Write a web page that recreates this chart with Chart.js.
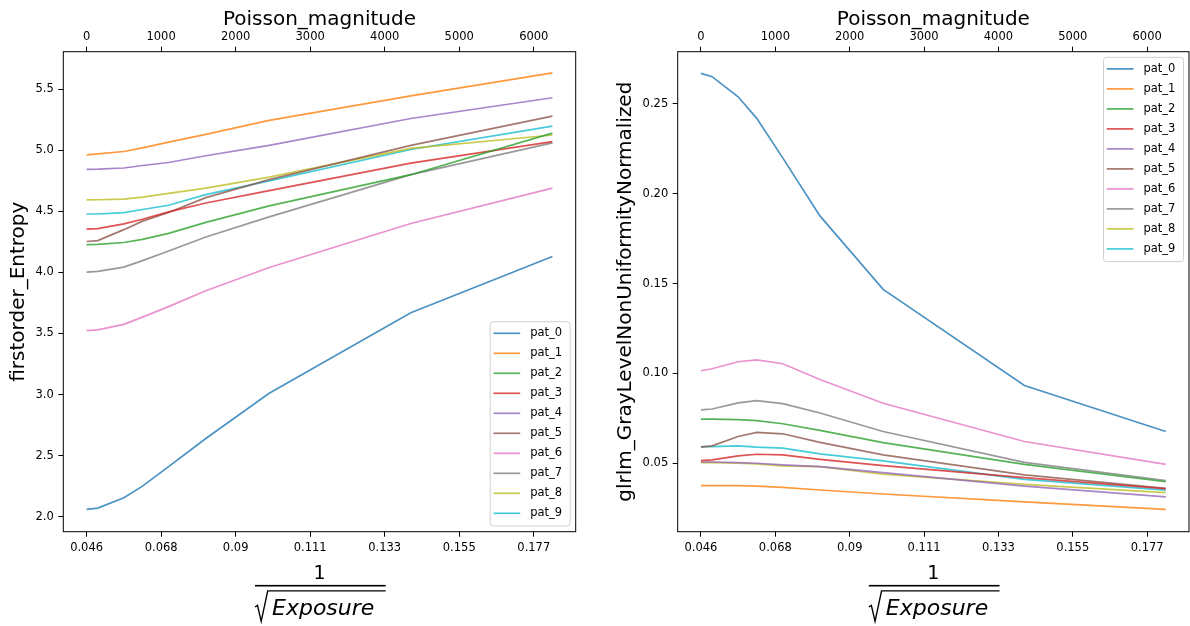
<!doctype html>
<html>
<head>
<meta charset="utf-8">
<script src="https://cdn.jsdelivr.net/npm/chart.js@4"></script>
<style>
body{margin:0;background:#fff;width:1190px;height:626px;overflow:hidden;position:relative}
canvas{position:absolute;top:0}
#c1{left:0}
#c2{left:590px}
</style>
</head>
<body>
<canvas id="c1" width="590" height="626"></canvas>
<canvas id="c2" width="600" height="626"></canvas>
<script>
// x positions (Poisson magnitude) shared by every curve
const poisson = [0, 150, 500, 750, 1100, 1600, 2450, 4350, 6250];
const topTicks = [0, 1000, 2000, 3000, 4000, 5000, 6000];
const bottomTickLabels = ['0.046', '0.068', '0.09', '0.111', '0.133', '0.155', '0.177'];
const patients = ['pat_0','pat_1','pat_2','pat_3','pat_4','pat_5','pat_6','pat_7','pat_8','pat_9'];

// firstorder_Entropy
const entropyPat0 = [2.06, 2.07, 2.155, 2.25, 2.41, 2.64, 3.01, 3.67, 4.13];
const entropyPat1 = [4.963, 4.97, 4.99, 5.02, 5.066, 5.13, 5.245, 5.445, 5.634];
const entropyPat2 = [4.227, 4.23, 4.245, 4.27, 4.32, 4.41, 4.545, 4.80, 5.14];
const entropyPat3 = [4.355, 4.358, 4.397, 4.435, 4.495, 4.568, 4.67, 4.895, 5.07];
const entropyPat4 = [4.844, 4.845, 4.855, 4.875, 4.90, 4.955, 5.04, 5.26, 5.43];
const entropyPat5 = [4.253, 4.26, 4.35, 4.42, 4.49, 4.612, 4.76, 5.04, 5.28];
const entropyPat6 = [3.523, 3.53, 3.575, 3.634, 3.72, 3.85, 4.04, 4.40, 4.69];
const entropyPat7 = [4.002, 4.008, 4.043, 4.096, 4.175, 4.29, 4.455, 4.80, 5.06];
const entropyPat8 = [4.594, 4.595, 4.60, 4.617, 4.647, 4.69, 4.78, 5.015, 5.125];
const entropyPat9 = [4.478, 4.478, 4.49, 4.515, 4.55, 4.637, 4.75, 5.006, 5.198];

// glrlm_GrayLevelNonUniformityNormalized
const glrlmPat0 = [0.267, 0.2652, 0.254, 0.242, 0.220, 0.1877, 0.1468, 0.0933, 0.0677];
const glrlmPat1 = [0.0375, 0.0375, 0.0375, 0.0373, 0.0366, 0.0351, 0.0329, 0.0285, 0.0243];
const glrlmPat2 = [0.0746, 0.0746, 0.0743, 0.0737, 0.0720, 0.0683, 0.0615, 0.0494, 0.0397];
const glrlmPat3 = [0.0515, 0.0519, 0.0541, 0.0550, 0.0547, 0.0522, 0.0487, 0.0420, 0.0358];
const glrlmPat4 = [0.0507, 0.0507, 0.0504, 0.0500, 0.0491, 0.0481, 0.0448, 0.0373, 0.0313];
const glrlmPat5 = [0.0590, 0.0597, 0.0649, 0.0672, 0.0664, 0.0616, 0.0547, 0.0435, 0.0360];
const glrlmPat6 = [0.1015, 0.1026, 0.1065, 0.1075, 0.1054, 0.0966, 0.0834, 0.0621, 0.0494];
const glrlmPat7 = [0.0797, 0.0802, 0.0836, 0.0849, 0.0832, 0.0780, 0.0677, 0.0505, 0.0403];
const glrlmPat8 = [0.0504, 0.0504, 0.0500, 0.0496, 0.0485, 0.0481, 0.0440, 0.0382, 0.0336];
const glrlmPat9 = [0.0593, 0.0593, 0.0597, 0.0590, 0.0584, 0.0552, 0.0513, 0.0410, 0.0350];

const entropySeries = [entropyPat0, entropyPat1, entropyPat2, entropyPat3, entropyPat4,
  entropyPat5, entropyPat6, entropyPat7, entropyPat8, entropyPat9];
const glrlmSeries = [glrlmPat0, glrlmPat1, glrlmPat2, glrlmPat3, glrlmPat4,
  glrlmPat5, glrlmPat6, glrlmPat7, glrlmPat8, glrlmPat9];

// tab10 with alpha .8
const colors = ['rgba(31,119,180,.8)','rgba(255,127,14,.8)','rgba(44,160,44,.8)','rgba(214,39,40,.8)',
  'rgba(148,103,189,.8)','rgba(140,86,75,.8)','rgba(227,119,194,.8)','rgba(127,127,127,.8)',
  'rgba(188,189,34,.8)','rgba(23,190,207,.8)'];

const FONT = "'DejaVu Sans', sans-serif";
const tickFont = {family: FONT, size: 11.5};

const framePlugin = {
  id: 'frame',
  afterDraw(chart){
    const {ctx, chartArea: a} = chart;
    ctx.save();
    ctx.strokeStyle = '#000'; ctx.lineWidth = 1;
    ctx.strokeRect(a.left, a.top, a.right - a.left, a.bottom - a.top);
    ctx.restore();
  }
};

const boxLegend = {
  id: 'boxLegend',
  afterDraw(chart, args, opts){
    const {ctx, chartArea: a} = chart;
    const w = 80, h = 204.3;
    const bx = a.right - 5.5 - w;
    const by = opts.corner === 'upper' ? a.top + 5.6 : a.bottom - 5.7 - h;
    ctx.save();
    ctx.beginPath();
    ctx.roundRect(bx, by, w, h, 3);
    ctx.fillStyle = 'rgba(255,255,255,0.8)'; ctx.fill();
    ctx.strokeStyle = '#d0d0d0'; ctx.lineWidth = 1; ctx.stroke();
    ctx.font = `11.5px ${FONT}`; ctx.textBaseline = 'middle'; ctx.textAlign = 'left';
    chart.data.datasets.forEach((ds, i) => {
      const y = by + 11.6 + i * 20;
      ctx.strokeStyle = ds.borderColor; ctx.lineWidth = 1.7;
      ctx.beginPath(); ctx.moveTo(bx + 3.3, y); ctx.lineTo(bx + 30, y); ctx.stroke();
      ctx.fillStyle = '#000'; ctx.fillText(ds.label, bx + 40, y);
    });
    ctx.restore();
  }
};

// 1 / sqrt(Exposure) axis label, drawn like matplotlib mathtext
const fractionTitle = {
  id: 'fractionTitle',
  afterDraw(chart){
    const {ctx, chartArea: a} = chart;
    const cx = (a.left + a.right) / 2;
    ctx.save();
    ctx.fillStyle = '#000';
    ctx.textBaseline = 'alphabetic';
    ctx.font = `19px ${FONT}`; ctx.textAlign = 'center';
    ctx.fillText('1', cx, 579.3);
    ctx.fillRect(cx - 64.5, 584.9, 130.7, 1.6);
    // radical sign + overline
    ctx.strokeStyle = '#000'; ctx.lineWidth = 1.4; ctx.lineJoin = 'miter';
    ctx.beginPath();
    ctx.moveTo(cx - 64.5, 607);
    ctx.lineTo(cx - 62, 605.3);
    ctx.lineTo(cx - 58.3, 621.3);
    ctx.lineTo(cx - 51.8, 590.9);
    ctx.lineTo(cx + 66.2, 590.9);
    ctx.stroke();
    ctx.textAlign = 'left';
    ctx.font = `italic 22px ${FONT}`;
    ctx.fillText('Exposure', cx - 47.5, 615.3);
    ctx.restore();
  }
};

function build(id, o){
  const datasets = patients.map((p, i) => ({
    label: p,
    data: poisson.map((x, j) => ({x: x, y: o.series[i][j]})),
    borderColor: colors[i], backgroundColor: colors[i],
    borderWidth: 1.7, pointRadius: 0, tension: 0, fill: false, xAxisID: 'x', yAxisID: 'y'
  }));
  const grid = {drawOnChartArea: false, tickLength: 5, color: '#000', tickColor: '#000', lineWidth: 1};
  return new Chart(document.getElementById(id), {
    type: 'line',
    data: {datasets},
    options: {
      responsive: false, animation: false, events: [],
      layout: {padding: {left: 0, right: o.padRight, top: 0, bottom: 0}},
      plugins: {legend: {display: false}, tooltip: {enabled: false}, boxLegend: {corner: o.legendCorner}},
      scales: {
        x: {
          type: 'linear', position: 'bottom', min: -312.5, max: 6562.5,
          afterBuildTicks: s => { s.ticks = topTicks.map(v => ({value: v})); },
          afterFit: s => { s.height = 94.3; },
          ticks: {callback: (v, i) => bottomTickLabels[i], font: tickFont, color: '#000', padding: 4.7, maxRotation: 0, autoSkip: false},
          grid: grid, border: {display: false}
        },
        x2: {
          type: 'linear', position: 'top', min: -312.5, max: 6562.5,
          afterBuildTicks: s => { s.ticks = topTicks.map(v => ({value: v})); },
          afterFit: s => { s.height = 51.7; },
          ticks: {callback: v => String(v), font: tickFont, color: '#000', padding: 2.5, maxRotation: 0, autoSkip: false},
          grid: grid, border: {display: false},
          title: {display: true, text: 'Poisson_magnitude', color: '#000', font: {family: FONT, size: 20}, padding: {top: 8, bottom: 0}}
        },
        y: {
          type: 'linear', position: 'left', min: o.yMin, max: o.yMax,
          afterBuildTicks: s => { s.ticks = o.yTicks.map(v => ({value: v})); },
          afterFit: s => { s.width = o.yWidth; },
          ticks: {callback: v => v.toFixed(o.dec), font: tickFont, color: '#000', padding: 4.5},
          grid: grid, border: {display: false},
          title: {display: true, text: o.yTitle, color: '#000', font: {family: FONT, size: 20}, padding: {top: o.yTitlePad, bottom: 0}}
        }
      }
    },
    plugins: [framePlugin, boxLegend, fractionTitle]
  });
}

const entropyTicks = [2.0, 2.5, 3.0, 3.5, 4.0, 4.5, 5.0, 5.5];
const glrlmTicks = [0.05, 0.10, 0.15, 0.20, 0.25];

build('c1', {series: entropySeries, yMin: 1.877, yMax: 5.807, yTicks: entropyTicks, dec: 1,
  yTitle: 'firstorder_Entropy', yWidth: 63.3, yTitlePad: 6.5, padRight: 14.3, legendCorner: 'lower'});
build('c2', {series: glrlmSeries, yMin: 0.0119, yMax: 0.2791, yTicks: glrlmTicks, dec: 2,
  yTitle: 'glrlm_GrayLevelNonUniformityNormalized', yWidth: 87.7, yTitlePad: 23.5, padRight: 1, legendCorner: 'upper'});
</script>
</body>
</html>
